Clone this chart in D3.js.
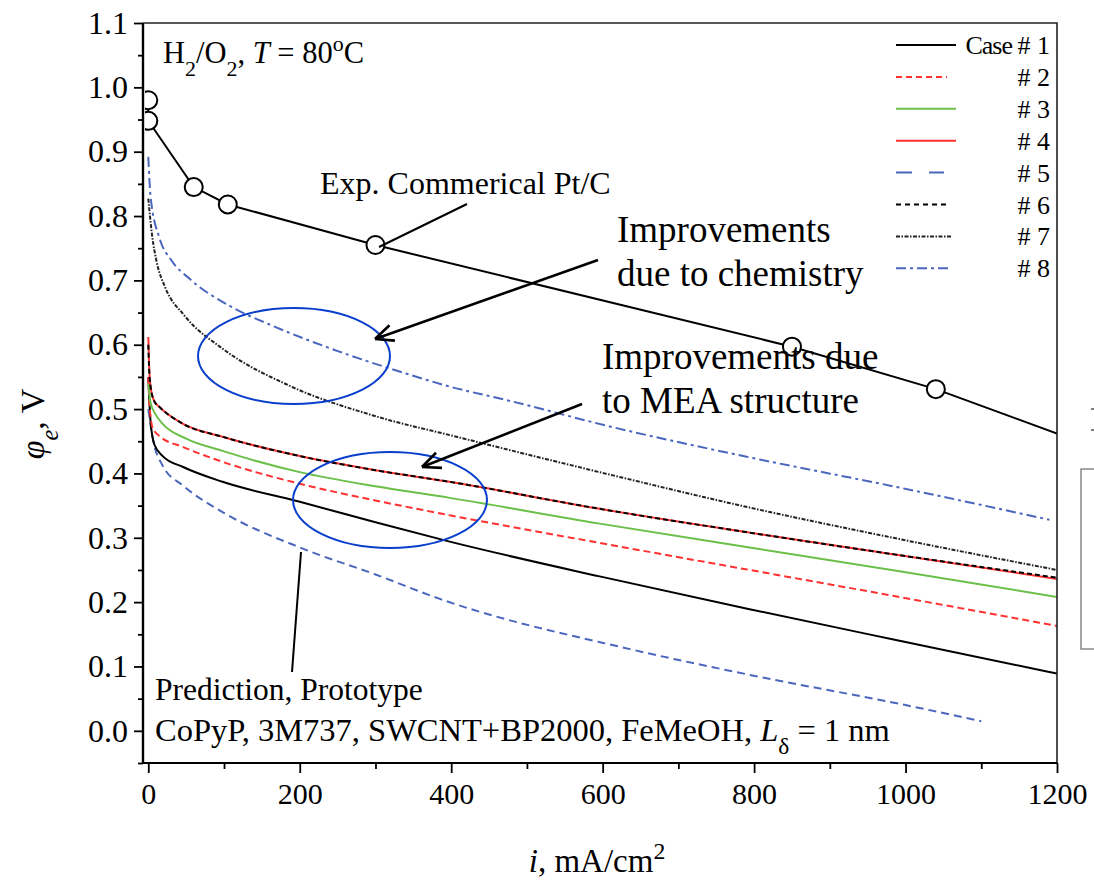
<!DOCTYPE html>
<html><head><meta charset="utf-8">
<script src="https://cdn.jsdelivr.net/npm/d3@7"></script>
<style>
body{margin:0;background:#fff}
svg{display:block}
text{font-family:"Liberation Serif","Times New Roman",serif;fill:#000}
</style>
</head><body>
<svg id="c" width="1094" height="883"></svg>
<script>
// ---------------- data ----------------
const expI   = [0, 0, 60, 105, 300, 850, 1040, 1200];
const expPhi = [0.980, 0.948, 0.845, 0.818, 0.755, 0.597, 0.531, 0.462];
const expMarked = [true, true, true, true, true, true, true, false];

const case1I   = [0, 3, 8, 19, 46, 98, 200, 300, 398, 596, 794, 992, 1200];
const case1Phi = [0.55, 0.48, 0.445, 0.427, 0.41, 0.387, 0.356, 0.324, 0.294, 0.240, 0.189, 0.140, 0.089];

const case2I   = [0, 2, 6, 15, 46, 98, 200, 300, 398, 596, 794, 992, 1200];
const case2Phi = [0.55, 0.50, 0.47, 0.458, 0.441, 0.418, 0.384, 0.358, 0.335, 0.292, 0.250, 0.208, 0.163];

const case3I   = [0, 3, 9, 19, 50, 98, 200, 300, 398, 596, 794, 992, 1200];
const case3Phi = [0.54, 0.51, 0.493, 0.477, 0.454, 0.435, 0.402, 0.380, 0.362, 0.322, 0.285, 0.248, 0.208];

const case4I   = [0, 1, 3, 8, 15, 46, 98, 200, 300, 398, 596, 794, 992, 1200];
const case4Phi = [0.612, 0.57, 0.535, 0.512, 0.503, 0.477, 0.457, 0.427, 0.405, 0.387, 0.345, 0.308, 0.273, 0.236];

const case5I   = [0, 6, 19, 46, 98, 200, 300, 385, 636, 794, 1000, 1100];
const case5Phi = [0.50, 0.454, 0.412, 0.381, 0.340, 0.285, 0.243, 0.205, 0.127, 0.087, 0.040, 0.015];

const case6I   = [0, 1, 3, 8, 15, 46, 98, 200, 300, 398, 596, 794, 992, 1200];
const case6Phi = [0.60, 0.565, 0.535, 0.512, 0.503, 0.477, 0.457, 0.427, 0.405, 0.387, 0.345, 0.308, 0.273, 0.238];

const case7I   = [0, 5, 11, 22, 48, 98, 187, 297, 407, 596, 794, 992, 1200];
const case7Phi = [0.827, 0.77, 0.729, 0.69, 0.645, 0.594, 0.536, 0.490, 0.457, 0.402, 0.347, 0.298, 0.250];

const case8I   = [0, 3, 15, 30, 55, 108, 165, 253, 341, 398, 473, 613, 794, 992, 1190];
const case8Phi = [0.892, 0.83, 0.765, 0.732, 0.702, 0.66, 0.629, 0.589, 0.555, 0.535, 0.514, 0.472, 0.425, 0.378, 0.328];

const legendLabels = ["# 1", "# 2", "# 3", "# 4", "# 5", "# 6", "# 7", "# 8"];
const xTicks = [0, 200, 400, 600, 800, 1000, 1200];
const yTicks = [0.0, 0.1, 0.2, 0.3, 0.4, 0.5, 0.6, 0.7, 0.8, 0.9, 1.0, 1.1];

// ---------------- layout ----------------
const svg = d3.select("#c");
const L = 143, R = 1057, T = 23, B = 763;
const x = d3.scaleLinear().domain([-7, 1200]).range([L, R]);
const y = d3.scaleLinear().domain([-0.05, 1.1]).range([B, T]);

const RED = "#ff3131", GREEN = "#6cc04a", BLUE = "#4a66bd", ELL = "#0a3fcc";

const series = [
  {I: case1I, P: case1Phi, color: "#000", dash: null, ldash: null},
  {I: case2I, P: case2Phi, color: RED, dash: "7,4", ldash: "6,4"},
  {I: case3I, P: case3Phi, color: GREEN, dash: null, ldash: null},
  {I: case4I, P: case4Phi, color: RED, dash: null, ldash: null},
  {I: case5I, P: case5Phi, color: BLUE, dash: "8,5", ldash: "16,17"},
  {I: case6I, P: case6Phi, color: "#000", dash: "5,3", ldash: "5,4"},
  {I: case7I, P: case7Phi, color: "#222", dash: "4,1.5,1.5,1.5", ldash: "4,1.5,1.5,1.5"},
  {I: case8I, P: case8Phi, color: BLUE, dash: "10,4,3,4", ldash: "10,4,3,4"}
];

svg.append("defs").append("clipPath").attr("id", "plot")
  .append("rect").attr("x", L + 2).attr("y", T).attr("width", R - L - 2).attr("height", B - T);

// plot content
const plot = svg.append("g").attr("clip-path", "url(#plot)");
const line = d3.line().x(d => x(d[0])).y(d => y(d[1])).curve(d3.curveMonotoneX);
const lineLin = d3.line().x(d => x(d[0])).y(d => y(d[1]));

const drawOrder = [4, 0, 1, 2, 7, 6, 3, 5];
drawOrder.forEach(k => {
  const s = series[k];
  plot.append("path")
    .attr("d", line(s.I.map((v, j) => [v, s.P[j]])))
    .attr("fill", "none").attr("stroke", s.color).attr("stroke-width", 2)
    .attr("stroke-dasharray", s.dash);
});

// experiment
const expPts = expI.map((v, j) => [v, expPhi[j]]);
plot.append("path").attr("d", lineLin(expPts)).attr("fill", "none")
  .attr("stroke", "#000").attr("stroke-width", 2);
plot.selectAll("circle.exp").data(expPts.filter((d, j) => expMarked[j])).enter()
  .append("circle").attr("cx", d => x(d[0])).attr("cy", d => y(d[1])).attr("r", 9)
  .attr("fill", "#fff").attr("stroke", "#000").attr("stroke-width", 2);

// ellipses
plot.append("ellipse").attr("cx", 294).attr("cy", 356).attr("rx", 96).attr("ry", 48)
  .attr("fill", "none").attr("stroke", ELL).attr("stroke-width", 2);
plot.append("ellipse").attr("cx", 390).attr("cy", 500).attr("rx", 97).attr("ry", 48)
  .attr("fill", "none").attr("stroke", ELL).attr("stroke-width", 2);

// frame (top & right)
svg.append("path").attr("d", `M${L},${T}H${R}V${B}`).attr("fill", "none")
  .attr("stroke", "#222").attr("stroke-width", 1.6);

// axes
const yMinor = d3.range(-0.05, 1.11, 0.05).filter(v => Math.abs(Math.round(v * 10) - v * 10) > 0.01);
const xMinor = d3.range(100, 1200, 200);

const gy = svg.append("g").attr("transform", `translate(${L},0)`);
gy.call(d3.axisLeft(y).tickValues(yTicks).tickFormat(d3.format(".1f")).tickSize(9).tickPadding(6));
gy.append("g").call(d3.axisLeft(y).tickValues(yMinor).tickFormat("").tickSize(5));
gy.selectAll("line").attr("stroke-width", 1.8);
gy.selectAll("text").style("font-size", "32px").style("font-family", "Liberation Serif").attr("fill", "#000");

const gx = svg.append("g").attr("transform", `translate(0,${B})`);
gx.call(d3.axisBottom(x).tickValues(xTicks).tickFormat(d3.format("d")).tickSize(10).tickPadding(10));
gx.append("g").call(d3.axisBottom(x).tickValues(xMinor).tickFormat("").tickSize(6));
gx.selectAll("line").attr("stroke-width", 1.8);
gx.selectAll("text").style("font-size", "30px").style("font-family", "Liberation Serif").attr("fill", "#000");
gy.selectAll("path.domain").attr("d", `M0,${T}V${B}`).attr("stroke-width", 2.2);
gx.selectAll("path.domain").attr("d", `M${L},0H${R}`).attr("stroke-width", 2.2);

// leader lines and arrows
function seg(x1, y1, x2, y2, w) {
  svg.append("line").attr("x1", x1).attr("y1", y1).attr("x2", x2).attr("y2", y2)
    .attr("stroke", "#000").attr("stroke-width", w || 2.2);
}
function arrow(x1, y1, x2, y2) {
  seg(x1, y1, x2, y2, 2.6);
  const a = Math.atan2(y1 - y2, x1 - x2), len = 20, sp = 0.42;
  seg(x2, y2, x2 + len * Math.cos(a + sp), y2 + len * Math.sin(a + sp), 2.6);
  seg(x2, y2, x2 + len * Math.cos(a - sp), y2 + len * Math.sin(a - sp), 2.6);
}
seg(467, 204, 379, 247, 2);
arrow(598, 260, 375, 339);
arrow(582, 404, 422, 467);
seg(301, 552, 292, 672, 2);

// text helpers
function rich(xp, yp, parts, size, anchor) {
  const t = svg.append("text").attr("x", xp).attr("y", yp)
    .style("font-size", size + "px").attr("text-anchor", anchor || "start");
  parts.forEach(p => {
    const ts = t.append("tspan").text(p.t);
    if (p.i) ts.style("font-style", "italic");
    if (p.sub) ts.attr("baseline-shift", "sub").style("font-size", (size * 0.72) + "px");
    if (p.sup) ts.attr("baseline-shift", "super").style("font-size", (size * 0.72) + "px");
  });
  return t;
}

rich(163, 63, [{t: "H"}, {t: "2", sub: 1}, {t: "/O"}, {t: "2", sub: 1}, {t: ", "}, {t: "T", i: 1}, {t: " = 80"}, {t: "o", sup: 1}, {t: "C"}], 30.5);
rich(320, 194, [{t: "Exp. Commerical Pt/C"}], 32);
rich(617, 242, [{t: "Improvements"}], 37);
rich(617, 286, [{t: "due to chemistry"}], 37);
rich(602, 369, [{t: "Improvements due"}], 37);
rich(602, 413, [{t: "to MEA structure"}], 37);
rich(155, 700, [{t: "Prediction, Prototype"}], 31.5);
rich(155, 741, [{t: "CoPyP, 3M737, SWCNT+BP2000, FeMeOH, "}, {t: "L", i: 1}, {t: "δ", sub: 1}, {t: " = 1 nm"}], 32.5);

// axis titles
rich(597, 872, [{t: "i", i: 1}, {t: ", mA/cm"}, {t: "2", sup: 1}], 33, "middle");
rich(0, 0, [{t: "φ", i: 1}, {t: "e", i: 1, sub: 1}, {t: ", V"}], 34, "middle")
  .attr("transform", "translate(44,424) rotate(-90)");

// legend
const legY0 = 45, legDy = 31.9;
series.forEach((s, k) => {
  const yy = legY0 + k * legDy;
  const x2 = (k === 1) ? 947 : (k === 4 ? 944 : (k === 5 ? 947 : (k === 6 || k === 7 ? 951 : 956)));
  svg.append("line").attr("x1", 896).attr("x2", x2).attr("y1", yy).attr("y2", yy)
    .attr("stroke", s.color).attr("stroke-width", 2).attr("stroke-dasharray", s.ldash);
  svg.append("text").attr("x", 1050).attr("y", yy + 9).attr("text-anchor", "end")
    .style("font-size", "26px").text(legendLabels[k]);
});
svg.append("text").attr("x", 1012).attr("y", legY0 + 9).attr("text-anchor", "end")
  .style("font-size", "26px").style("letter-spacing", "-1px").text("Case");

// cut-off fragments of neighbouring figure at right edge
svg.append("rect").attr("x", 1081).attr("y", 469).attr("width", 30).attr("height", 180)
  .attr("fill", "none").attr("stroke", "#777").attr("stroke-width", 1.3);
svg.append("line").attr("x1", 1091).attr("x2", 1094).attr("y1", 409).attr("y2", 409).attr("stroke", "#555").attr("stroke-width", 1.5);
svg.append("line").attr("x1", 1091).attr("x2", 1094).attr("y1", 430).attr("y2", 430).attr("stroke", "#555").attr("stroke-width", 1.5);
</script>
</body></html>
